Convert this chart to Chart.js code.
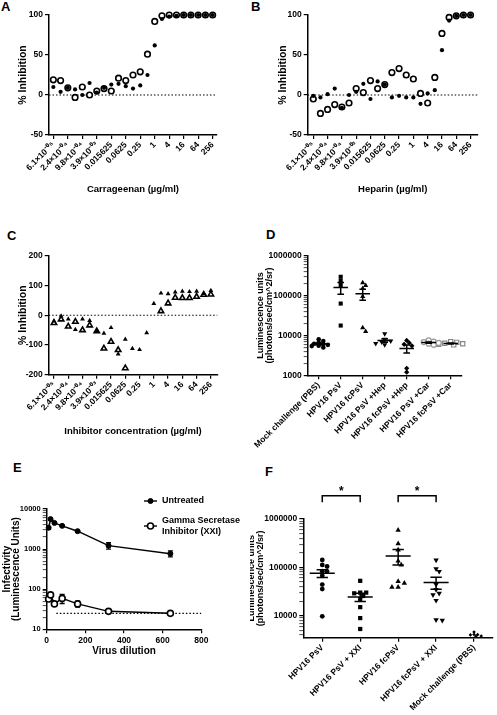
<!DOCTYPE html>
<html lang="en">
<head>
<meta charset="UTF-8">
<title>Inhibition of HPV16 pseudovirus infection</title>
<script src="https://cdn.jsdelivr.net/npm/chart.js"></script>
<style>
  body {
    margin: 0;
    width: 497px;
    height: 715px;
    position: relative;
    overflow: hidden;
    background: #fff;
    font-family: 'Liberation Sans', Arial, sans-serif;
  }
  canvas { position: absolute; }
  .letter {
    position: absolute;
    font-size: 13px;
    font-weight: bold;
    line-height: 1;
    color: #000;
  }
</style>
</head>
<body>
  <div class="letter" style="left:1px;top:0px">A</div>
  <div class="letter" style="left:251px;top:0px">B</div>
  <div class="letter" style="left:7px;top:229px">C</div>
  <div class="letter" style="left:266px;top:228px">D</div>
  <div class="letter" style="left:13px;top:461px">E</div>
  <div class="letter" style="left:265px;top:465px">F</div>

  <canvas id="chartA" width="250" height="215" style="left:0;top:0"></canvas>
  <canvas id="chartB" width="247" height="215" style="left:250px;top:0"></canvas>
  <canvas id="chartC" width="250" height="230" style="left:0;top:220px"></canvas>
  <canvas id="chartD" width="247" height="230" style="left:250px;top:220px"></canvas>
  <canvas id="chartE" width="250" height="265" style="left:0;top:450px"></canvas>
  <canvas id="chartF" width="247" height="265" style="left:250px;top:450px"></canvas>

<script>
// ---- data ----
// 23 twofold dilutions, lowest first; a label sits on every second one
const concLabels = ['6.1×10⁻⁰⁵', '2.4×10⁻⁰⁴', '9.8×10⁻⁰⁴', '3.9×10⁻⁰³', '0.015625', '0.0625',
                    '0.25', '1', '4', '16', '64', '256'];

const carFilled = [10, 4, 9, 7, 0, 15, 3, 9, 13, 14, 11, 8, 12, 25, 62, 95, 98, 99, 100, 100, 100, 100, 100];
const carOpen   = [19, 18, 9, -3, 10, 0, 5, 8, 5, 21, 18, 25, 29, 51, 92, 99, 100, 100, 100, 100, 100, 100, 100];

const hepFilled = [-1, -3, 1, 8, -16, 0, 4, 14, -5, 17, 13, -3, -1, -3, -3, -11, 2, 6, 56, 93, 99, 100, 100];
const hepOpen   = [-5, -23, -18, -12, -15, -10, 8, 3, 18, 8, 13, 28, 33, 25, 20, 2, -10, 22, 77, 97, 99, 100, 100];

const inhFilled = [-20, -3, -13, -48, -13, -18, -53, -61, -42, -131, -81, -112, -116, -59, 39, 74, 72, 78, 80, 79, 80, 73, 83];
const inhOpen   = [-26, -14, -38, -22, -50, -34, -54, -112, -89, -117, -178, null, null, null, null, 14, 40, 59, 58, 58, 62, 69, 70];

const mouseGroups = ['Mock challenge (PBS)', 'HPV16 PsV', 'HPV16 fcPsV', 'HPV16 PsV +Hep',
                     'HPV16 fcPsV +Hep', 'HPV16 PsV +Car', 'HPV16 fcPsV +Car'];
const mockPbs   = [8000, 7200, 6600, 6200, 5800, 5400, 5000, 6000, 5500];
const psv       = [296000, 235000, 185000, 63000, 17700];
const fcPsv     = [210000, 180000, 150000, 95000, 15500, 12500];
const psvHep    = [11000, 8000, 7200, 6800, 6300, 5800];
const fcPsvHep  = [7500, 6500, 6000, 5500, 1500, 1200];
const psvCar    = [7500, 7000, 6800, 6500, 6200, 5800];
const fcPsvCar  = [7000, 6700, 6400, 6200, 6000, 5800, 5600];

const dilutions    = [10, 20, 40, 80, 160, 320, 640];
const untreated    = [3400, 5600, 4500, 3800, 2800, 1220, 770];
const untreatedSem = [300, 250, 200, 150, 120, 220, 130];
const gsi          = [57, 72, 43, 59, 43, 28, 25];
const gsiSem       = [5, 8, 4, 15, 7, 2, 1];
const gsiCutoff    = 25;

const xxiGroups = ['HPV16 PsV', 'HPV16 PsV + XXI', 'HPV16 fcPsV', 'HPV16 fcPsV + XXI', 'Mock challenge (PBS)'];
const xPsv      = [142000, 112000, 104000, 83000, 82000, 67000, 44000, 35500, 9700];
const xPsvXxi   = [52600, 30000, 30000, 29000, 25500, 22000, 15000, 8900, 5300];
const xFc       = [590000, 310000, 230000, 135000, 112000, 51000, 47000, 39000, 39000];
const xFcXxi    = [141000, 93000, 82000, 44000, 34500, 29000, 27000, 20600, 8200, 8000];
const xMock     = [4600, 4100, 4050, 4000, 3800, 3750];
const sigPairs  = [[0, 1], [2, 3]];

// ---- shared setup ----
Chart.defaults.font.family = "'Liberation Sans', Arial, sans-serif";
Chart.defaults.font.weight = 'bold';
Chart.defaults.color = '#000';
Chart.defaults.animation = false;
Chart.defaults.responsive = false;
Chart.defaults.devicePixelRatio = 1;
Chart.defaults.plugins.legend.display = false;
Chart.defaults.plugins.tooltip.enabled = false;

const TICK = 8.5;

function grid() {
  return { drawOnChartArea: false, color: '#000', tickLength: 4, lineWidth: 1.2 };
}
function border() {
  return { color: '#000', width: 1.5 };
}
function yTitle(text, size, centerX, lh) {
  return { display: true, text, color: '#000', font: { size, weight: 'bold', lineHeight: lh },
           padding: { top: centerX - size * lh / 2, bottom: 0 } };
}
function xTitle(text, size, centerY, h) {
  return { display: true, text, color: '#000', font: { size, weight: 'bold', lineHeight: 1.2 },
           padding: { top: 0, bottom: h - centerY - size * 0.6 } };
}
function fixW(w) {
  return ax => { ax.width = w; ax.paddingTop = 0; ax.paddingBottom = 0; };
}
function fixH(h) {
  return ax => { ax.height = h; ax.paddingLeft = 0; ax.paddingRight = 0; };
}
function logTicks(min, max) {
  const out = [];
  for (let d = 1; d <= max; d *= 10) {
    for (let m = 1; m < 10; m++) {
      const v = d * m;
      if (v >= min && v <= max) out.push({ value: v, major: m === 1 });
    }
  }
  return out;
}
function logAxis(min, max, w, size) {
  return {
    type: 'logarithmic', min, max,
    afterBuildTicks: ax => { ax.ticks = logTicks(min, max); },
    afterFit: fixW(w),
    border: border(),
    grid: { ...grid(), tickWidth: c => (c.tick && c.tick.major ? 1.2 : 0.7) },
    ticks: { autoSkip: false, padding: 2, font: { size }, callback: (v, i, t) => (t[i].major ? String(v) : '') }
  };
}

// ---- plugins ----
// spread points of a group sideways so they do not sit on top of each other
const swarm = {
  id: 'swarm',
  afterDatasetsUpdate(chart, args, opts) {
    chart.data.datasets.forEach((ds, di) => {
      const pts = chart.getDatasetMeta(di).data;
      const r = ds.pointRadius;
      const placed = [];
      pts.map((p, i) => i).sort((a, b) => pts[a].y - pts[b].y).forEach(i => {
        const p = pts[i];
        const cx = p.x;
        for (let k = 0; k < 30; k++) {
          const off = (k % 2 ? 1 : -1) * Math.ceil(k / 2) * r * opts.step;
          if (!placed.some(q => Math.hypot(q.x - cx - off, q.y - p.y) < r * opts.gap)) {
            p.x = cx + off;
            break;
          }
        }
        placed.push({ x: p.x, y: p.y });
      });
    });
  }
};

const meanSem = {
  id: 'meanSem',
  afterDatasetsDraw(chart) {
    const { ctx, scales: { x, y } } = chart;
    const band = x.width / x.getLabels().length;
    chart.data.datasets.forEach(ds => {
      if (!ds.meanBar) return;
      const vals = ds.data.map(p => p.y);
      const n = vals.length;
      const mean = vals.reduce((a, b) => a + b, 0) / n;
      const sd = Math.sqrt(vals.reduce((a, b) => a + (b - mean) ** 2, 0) / (n - 1));
      const sem = sd / Math.sqrt(n);
      const cx = x.getPixelForValue(x.getLabels().indexOf(ds.data[0].x));
      const ym = y.getPixelForValue(mean), yt = y.getPixelForValue(mean + sem), yb = y.getPixelForValue(mean - sem);
      ctx.save();
      ctx.strokeStyle = '#000';
      ctx.lineWidth = 1.5;
      ctx.beginPath();
      ctx.moveTo(cx - band * 0.33, ym); ctx.lineTo(cx + band * 0.33, ym);
      ctx.moveTo(cx, yt); ctx.lineTo(cx, yb);
      ctx.moveTo(cx - band * 0.15, yt); ctx.lineTo(cx + band * 0.15, yt);
      ctx.moveTo(cx - band * 0.15, yb); ctx.lineTo(cx + band * 0.15, yb);
      ctx.stroke();
      ctx.restore();
    });
  }
};

const errorBars = {
  id: 'errorBars',
  beforeDatasetsDraw(chart) {
    const { ctx, scales: { y } } = chart;
    chart.data.datasets.forEach((ds, di) => {
      if (!ds.errors) return;
      chart.getDatasetMeta(di).data.forEach((pt, i) => {
        const v = ds.data[i].y, e = ds.errors[i];
        const yt = y.getPixelForValue(v + e), yb = y.getPixelForValue(v - e);
        ctx.save();
        ctx.strokeStyle = '#000';
        ctx.lineWidth = 1.3;
        ctx.beginPath();
        ctx.moveTo(pt.x, yt); ctx.lineTo(pt.x, yb);
        ctx.moveTo(pt.x - 2.5, yt); ctx.lineTo(pt.x + 2.5, yt);
        ctx.moveTo(pt.x - 2.5, yb); ctx.lineTo(pt.x + 2.5, yb);
        ctx.stroke();
        ctx.restore();
      });
    });
  }
};

const sideLegend = {
  id: 'sideLegend',
  afterDraw(chart, args, opts) {
    const ctx = chart.ctx;
    let row = 0;
    chart.data.datasets.forEach(ds => {
      if (!ds.legendText) return;
      const y = opts.rows[row++];
      ctx.save();
      ctx.strokeStyle = '#000';
      ctx.lineWidth = 1.4;
      ctx.beginPath(); ctx.moveTo(opts.x, y); ctx.lineTo(opts.x + 13, y); ctx.stroke();
      ctx.beginPath();
      ctx.arc(opts.x + 6.5, y, ds.pointRadius, 0, Math.PI * 2);
      ctx.fillStyle = ds.pointBackgroundColor;
      ctx.fill();
      ctx.lineWidth = ds.pointBorderWidth;
      ctx.stroke();
      ctx.fillStyle = '#000';
      ctx.font = 'bold ' + opts.size + "px 'Liberation Sans', Arial, sans-serif";
      ctx.textBaseline = 'middle';
      const lines = ds.legendText;
      lines.forEach((t, k) => ctx.fillText(t, opts.x + 18, y + (k - (lines.length - 1) / 2) * opts.lh));
      ctx.restore();
    });
  }
};

const brackets = {
  id: 'brackets',
  afterDraw(chart, args, opts) {
    if (!opts.pairs) return;
    const { ctx, chartArea, scales: { x } } = chart;
    ctx.save();
    ctx.strokeStyle = '#000';
    ctx.fillStyle = '#000';
    ctx.lineWidth = 1.5;
    ctx.font = "bold 12px 'Liberation Sans', Arial, sans-serif";
    ctx.textAlign = 'center';
    ctx.textBaseline = 'middle';
    opts.pairs.forEach(([a, b]) => {
      const x1 = x.getPixelForValue(a), x2 = x.getPixelForValue(b);
      const top = chartArea.top - opts.rise;
      ctx.beginPath();
      ctx.moveTo(x1, top + opts.leg); ctx.lineTo(x1, top); ctx.lineTo(x2, top); ctx.lineTo(x2, top + opts.leg);
      ctx.stroke();
      ctx.fillText('*', (x1 + x2) / 2, top - 4);
    });
    ctx.restore();
  }
};

// ---- panels A-C: dose response ----
function doseChart(id, g, filled, open, shape, yMin, yMax, yStep, xText) {
  const pts = arr => arr.map((v, i) => ({ x: i, y: v }));
  new Chart(document.getElementById(id), {
    type: 'scatter',
    data: {
      datasets: [
        { data: pts(filled), pointStyle: shape, pointRadius: g.rFill, backgroundColor: '#000', borderWidth: 0, clip: false },
        { data: pts(open), pointStyle: shape, pointRadius: g.rOpen, backgroundColor: '#fff', borderColor: '#000', borderWidth: 1.6, clip: false },
        { type: 'line', data: [{ x: g.xMin, y: 0 }, { x: g.xMax, y: 0 }], borderColor: '#000', borderWidth: 1.1,
          borderDash: [1.5, 2], pointRadius: 0, clip: false }
      ]
    },
    options: {
      layout: { padding: { left: 0, top: g.t, right: g.w - g.r, bottom: 0 } },
      scales: {
        x: {
          type: 'linear', min: g.xMin, max: g.xMax,
          afterBuildTicks: ax => { ax.ticks = concLabels.map((_, k) => ({ value: 2 * k })); },
          afterFit: fixH(g.h - g.b),
          border: border(), grid: grid(),
          ticks: { autoSkip: false, minRotation: 45, maxRotation: 45, padding: 1, font: { size: TICK },
                   callback: v => concLabels[v / 2] },
          title: xTitle(xText, 9.5, g.xt, g.h)
        },
        y: {
          min: yMin, max: yMax,
          afterFit: fixW(g.l),
          border: border(), grid: grid(),
          ticks: { stepSize: yStep, padding: 2, font: { size: TICK } },
          title: yTitle('% Inhibition', 10.5, g.yt, 1.2)
        }
      }
    }
  });
}

doseChart('chartA', { w: 250, h: 215, l: 49, t: 15, r: 217, b: 135, xMin: -0.6, xMax: 22.6, yt: 22.7, xt: 189, rFill: 2.1, rOpen: 2.8 },
  carFilled, carOpen, 'circle', -50, 100, 50, 'Carrageenan (µg/ml)');
doseChart('chartB', { w: 247, h: 215, l: 57.7, t: 15, r: 227.7, b: 135, xMin: -0.78, xMax: 23, yt: 33.3, xt: 189, rFill: 2.1, rOpen: 2.8 },
  hepFilled, hepOpen, 'circle', -50, 100, 50, 'Heparin (µg/ml)');
doseChart('chartC', { w: 250, h: 230, l: 48.7, t: 35.7, r: 217.3, b: 154.7, xMin: -0.74, xMax: 22.9, yt: 22.7, xt: 211, rFill: 2.8, rOpen: 3.1 },
  inhFilled, inhOpen, 'triangle', -200, 200, 100, 'Inhibitor concentration (µg/ml)');

// ---- panels D and F: dot plots with mean ± SEM ----
function dotChart(id, g, groups, values, styles, yMin, yMax, extra) {
  new Chart(document.getElementById(id), {
    type: 'scatter',
    data: {
      datasets: values.map((vals, k) => ({
        data: vals.map(v => ({ x: groups[k], y: v })),
        pointStyle: styles[k].shape,
        rotation: styles[k].rot || 0,
        pointRadius: styles[k].r,
        backgroundColor: styles[k].fill,
        borderColor: styles[k].line,
        borderWidth: styles[k].bw || 0,
        meanBar: styles[k].mean !== false,
        clip: false
      }))
    },
    options: {
      layout: { padding: { left: 0, top: g.t, right: g.w - g.r, bottom: 0 } },
      plugins: { swarm: { step: 1.0, gap: 1.3 }, brackets: extra },
      scales: {
        x: {
          type: 'category', labels: groups, offset: true,
          afterFit: fixH(g.h - g.b),
          border: border(), grid: { ...grid(), offset: false },
          ticks: { autoSkip: false, minRotation: 45, maxRotation: 45, padding: 1, font: { size: TICK } }
        },
        y: { ...logAxis(yMin, yMax, g.l, TICK),
             title: yTitle(['Luminescence units', '(photons/sec/cm^2/sr)'], 9, g.yt, 0.95) }
      }
    },
    plugins: [swarm, meanSem, brackets]
  });
}

dotChart('chartD', { w: 247, h: 230, l: 57.7, t: 35.7, r: 211.7, b: 155.3, yt: 10.7 },
  mouseGroups, [mockPbs, psv, fcPsv, psvHep, fcPsvHep, psvCar, fcPsvCar],
  [
    { shape: 'circle', r: 2.3, fill: '#000', line: '#000' },
    { shape: 'rect', r: 2.9, fill: '#000', line: '#000' },
    { shape: 'triangle', r: 3, fill: '#000', line: '#000' },
    { shape: 'triangle', rot: 180, r: 3, fill: '#000', line: '#000' },
    { shape: 'rectRot', r: 2.6, fill: '#000', line: '#000' },
    { shape: 'circle', r: 2.5, fill: '#fff', line: '#999', bw: 1.2 },
    { shape: 'rect', r: 3, fill: '#fff', line: '#888', bw: 1.2 }
  ], 1000, 1000000, {});

dotChart('chartF', { w: 247, h: 265, l: 53.3, t: 69, r: 246.7, b: 187.7, yt: 1.5 },
  xxiGroups, [xPsv, xPsvXxi, xFc, xFcXxi, xMock],
  [
    { shape: 'circle', r: 2.4, fill: '#000', line: '#000' },
    { shape: 'rect', r: 3, fill: '#000', line: '#000' },
    { shape: 'triangle', r: 3.1, fill: '#000', line: '#000' },
    { shape: 'triangle', rot: 180, r: 3.1, fill: '#000', line: '#000' },
    { shape: 'rectRot', r: 1.8, fill: '#000', line: '#000', mean: false }
  ], 3500, 1000000, { pairs: sigPairs, rise: 23.3, leg: 6.6 });

// ---- panel E: infectivity vs dilution ----
new Chart(document.getElementById('chartE'), {
  type: 'line',
  data: {
    datasets: [
      { legendText: ['Untreated'], data: dilutions.map((d, i) => ({ x: d, y: untreated[i] })), errors: untreatedSem,
        borderColor: '#000', borderWidth: 1.5, pointRadius: 2.5, pointBackgroundColor: '#000', pointBorderColor: '#000',
        pointBorderWidth: 1, clip: false },
      { legendText: ['Gamma Secretase', 'Inhibitor (XXI)'], data: dilutions.map((d, i) => ({ x: d, y: gsi[i] })), errors: gsiSem,
        borderColor: '#000', borderWidth: 1.5, pointRadius: 3, pointBackgroundColor: '#fff', pointBorderColor: '#000',
        pointBorderWidth: 1.6, clip: false },
      { data: [{ x: 50, y: gsiCutoff }, { x: 800, y: gsiCutoff }], borderColor: '#000', borderWidth: 1.1,
        borderDash: [1.5, 2], pointRadius: 0 }
    ]
  },
  options: {
    layout: { padding: { left: 0, top: 59, right: 250 - 201.3, bottom: 0 } },
    plugins: { sideLegend: { x: 144, rows: [51, 76], size: 9, lh: 11 } },
    scales: {
      x: {
        type: 'linear', min: 0, max: 800,
        afterFit: fixH(265 - 179.3),
        border: border(), grid: grid(),
        ticks: { stepSize: 200, padding: 2, font: { size: TICK } },
        title: xTitle('Virus dilution', 10, 201.7, 265)
      },
      y: { ...logAxis(10, 10000, 46.7, 7.5),
           title: yTitle(['Infectivity', '(Luminescence Units)'], 10, 7.3, 0.85) }
    }
  },
  plugins: [errorBars, sideLegend]
});
</script>
</body>
</html>
